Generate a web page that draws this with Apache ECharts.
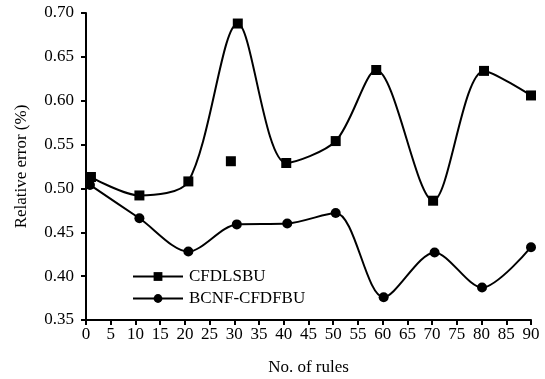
<!DOCTYPE html>
<html>
<head>
<meta charset="utf-8">
<script src="https://cdn.jsdelivr.net/npm/echarts@6/dist/echarts.min.js"></script>
<style>
  html, body { margin: 0; padding: 0; background: #fff; }
  #main { width: 545px; height: 379px; }
</style>
</head>
<body>
<div id="main"></div>
<script>
// values
const rulesA = [1, 10.8, 20.7, 30.7, 40.5, 50.5, 58.7, 70.2, 80.5, 90];
const cfdlsbu = [0.513, 0.492, 0.508, 0.688, 0.529, 0.554, 0.635, 0.486, 0.634, 0.606];
const extraPoint = [[29.3, 0.531]];
const rulesB = [0.8, 10.8, 20.7, 30.5, 40.7, 50.5, 60.2, 70.5, 80.1, 90];
const bcnf = [0.504, 0.466, 0.428, 0.459, 0.460, 0.472, 0.376, 0.427, 0.387, 0.433];

const font = 'Liberation Serif, Times New Roman, serif';

let myChart = echarts.init(document.getElementById('main'));
myChart.setOption({
  animation: false,
  grid: { left: 86, right: 14, top: 13, bottom: 59, outerBoundsMode: 'none' },
  legend: {
    data: ['CFDLSBU', 'BCNF-CFDFBU'],
    orient: 'vertical',
    left: 132,
    top: 268,
    padding: 0,
    itemWidth: 50,
    itemHeight: 11,
    itemGap: 5,
    textStyle: { fontFamily: font, fontSize: 17, color: '#000', padding: [0, 0, 0, 1] }
  },
  xAxis: {
    type: 'value',
    min: 0,
    max: 90,
    interval: 5,
    name: 'No. of rules',
    nameLocation: 'middle',
    nameGap: 39,
    nameTextStyle: { fontFamily: font, fontSize: 17, color: '#000' },
    axisLine: { onZero: false, lineStyle: { color: '#000', width: 2 } },
    axisTick: { length: 5, lineStyle: { color: '#000', width: 2 } },
    axisLabel: { fontFamily: font, fontSize: 17, color: '#000', margin: 6 },
    splitLine: { show: false }
  },
  yAxis: {
    type: 'value',
    min: 0.35,
    max: 0.70,
    interval: 0.05,
    name: 'Relative error (%)',
    nameLocation: 'middle',
    nameGap: 56,
    nameTextStyle: { fontFamily: font, fontSize: 17, color: '#000' },
    axisLine: { show: true, onZero: false, lineStyle: { color: '#000', width: 2 } },
    axisTick: { show: true, length: 5, lineStyle: { color: '#000', width: 2 } },
    axisLabel: {
      fontFamily: font, fontSize: 17, color: '#000', margin: 12,
      formatter: v => v.toFixed(2)
    },
    splitLine: { show: false }
  },
  series: [
    {
      name: 'CFDLSBU',
      type: 'line',
      smooth: 0.3,
      symbol: 'rect',
      symbolSize: 10,
      itemStyle: { color: '#000' },
      lineStyle: { color: '#000', width: 2 },
      data: rulesA.map((x, i) => [x, cfdlsbu[i]])
    },
    {
      name: 'CFDLSBU extra',
      type: 'scatter',
      symbol: 'rect',
      symbolSize: 10,
      itemStyle: { color: '#000', opacity: 1 },
      data: extraPoint
    },
    {
      name: 'BCNF-CFDFBU',
      type: 'line',
      smooth: 0.3,
      symbol: 'circle',
      symbolSize: 10,
      itemStyle: { color: '#000' },
      lineStyle: { color: '#000', width: 2 },
      data: rulesB.map((x, i) => [x, bcnf[i]])
    }
  ]
});
</script>
</body>
</html>
